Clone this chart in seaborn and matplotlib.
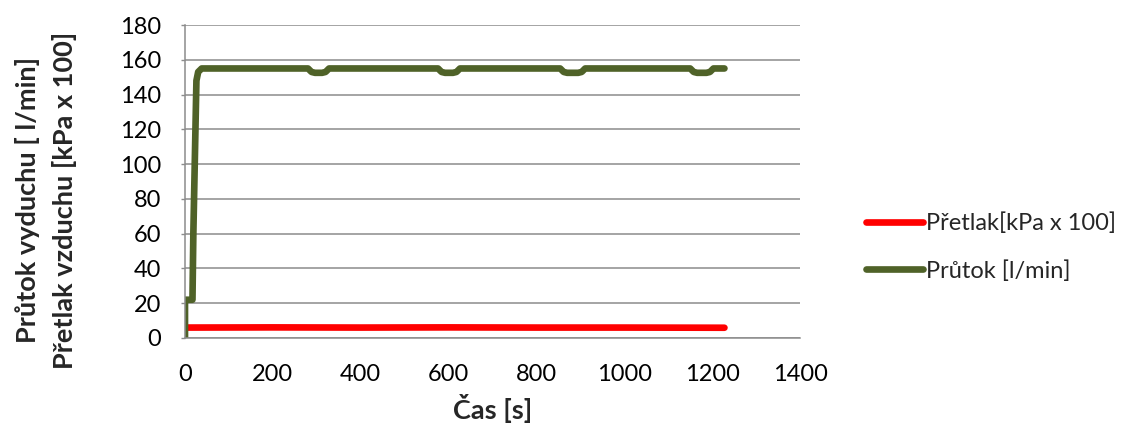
import pandas as pd
import matplotlib.pyplot as plt
import seaborn as sns

# Průtok [l/min] - green series (breakpoints)
prutok_t = [0, 0, 3, 17, 19, 26, 30, 38,
            280, 288, 296, 312, 320, 328,
            576, 584, 592, 610, 618, 626,
            854, 862, 870, 895, 903, 911,
            1150, 1158, 1166, 1187, 1195, 1203, 1228]
prutok_v = [0, 22, 22, 22, 60, 148, 153, 155,
            155, 153, 152.5, 152.5, 153, 155,
            155, 153, 152.5, 152.5, 153, 155,
            155, 153, 152.5, 152.5, 153, 155,
            155, 153, 152.5, 152.5, 153, 155, 155]

# Přetlak [kPa x 100] - red series
pretlak_t = [3, 200, 400, 600, 800, 1000, 1228]
pretlak_v = [6.0, 6.1, 6.0, 6.1, 6.0, 6.0, 5.9]

x_ticks = [0, 200, 400, 600, 800, 1000, 1200, 1400]
y_ticks = [0, 20, 40, 60, 80, 100, 120, 140, 160, 180]

lab_red = 'Přetlak[kPa x 100]'
lab_green = 'Průtok [l/min]'

df = pd.concat([
    pd.DataFrame({'t': pretlak_t, 'v': pretlak_v, 'serie': lab_red}),
    pd.DataFrame({'t': prutok_t, 'v': prutok_v, 'serie': lab_green}),
], ignore_index=True)

sns.set_theme(style='white')
plt.rcParams['font.family'] = ['Lato', 'DejaVu Sans']

fig = plt.figure(figsize=(11.22, 4.28), dpi=100)
ax = fig.add_axes([185 / 1122, 1 - 338 / 428, 615 / 1122, 313 / 428])

sns.lineplot(data=df, x='t', y='v', hue='serie', estimator=None, sort=False,
             palette={lab_red: '#FF0000', lab_green: '#4F6228'},
             linewidth=4.8, ax=ax, legend=False)
for ln in ax.lines:
    ln.set_solid_capstyle('round')
    ln.set_solid_joinstyle('round')

ax.set_xlim(0, 1400)
ax.set_ylim(0, 180)
ax.set_xticks(x_ticks)
ax.set_yticks(y_ticks)
ax.yaxis.grid(True, color='#8c8c8c', linewidth=1.1)
ax.xaxis.grid(False)
ax.set_axisbelow(True)
for s in ['top', 'right']:
    ax.spines[s].set_visible(False)
for s in ['left', 'bottom']:
    ax.spines[s].set_color('#8c8c8c')
    ax.spines[s].set_linewidth(1.1)

ax.tick_params(axis='y', left=True, length=3, width=1, color='#8c8c8c',
               pad=14, labelsize=17, labelcolor='black')
ax.tick_params(axis='x', bottom=False, pad=13, labelsize=17, labelcolor='black')

ax.set_xlabel('Čas [s]', fontsize=19.5, fontweight='bold', va='center')
ax.xaxis.set_label_coords(0.5, -0.224)
ax.set_ylabel('Průtok vyduchu [ l/min]\nPřetlak vzduchu [kPa x 100]',
              fontsize=19.5, fontweight='bold', va='center', linespacing=1.55)
ax.yaxis.set_label_coords(-0.226, 0.44)

handles = [plt.Line2D([], [], color='#FF0000', linewidth=4.8, solid_capstyle='round'),
           plt.Line2D([], [], color='#4F6228', linewidth=4.8, solid_capstyle='round')]
fig.legend(handles, [lab_red, lab_green], loc='center left',
           bbox_to_anchor=(866 / 1122, 1 - 247 / 428), frameon=False,
           fontsize=17, handlelength=2.4, handletextpad=0.15,
           labelspacing=1.1, borderpad=0, borderaxespad=0)

plt.savefig('out.png', dpi=100)
plt.close()
